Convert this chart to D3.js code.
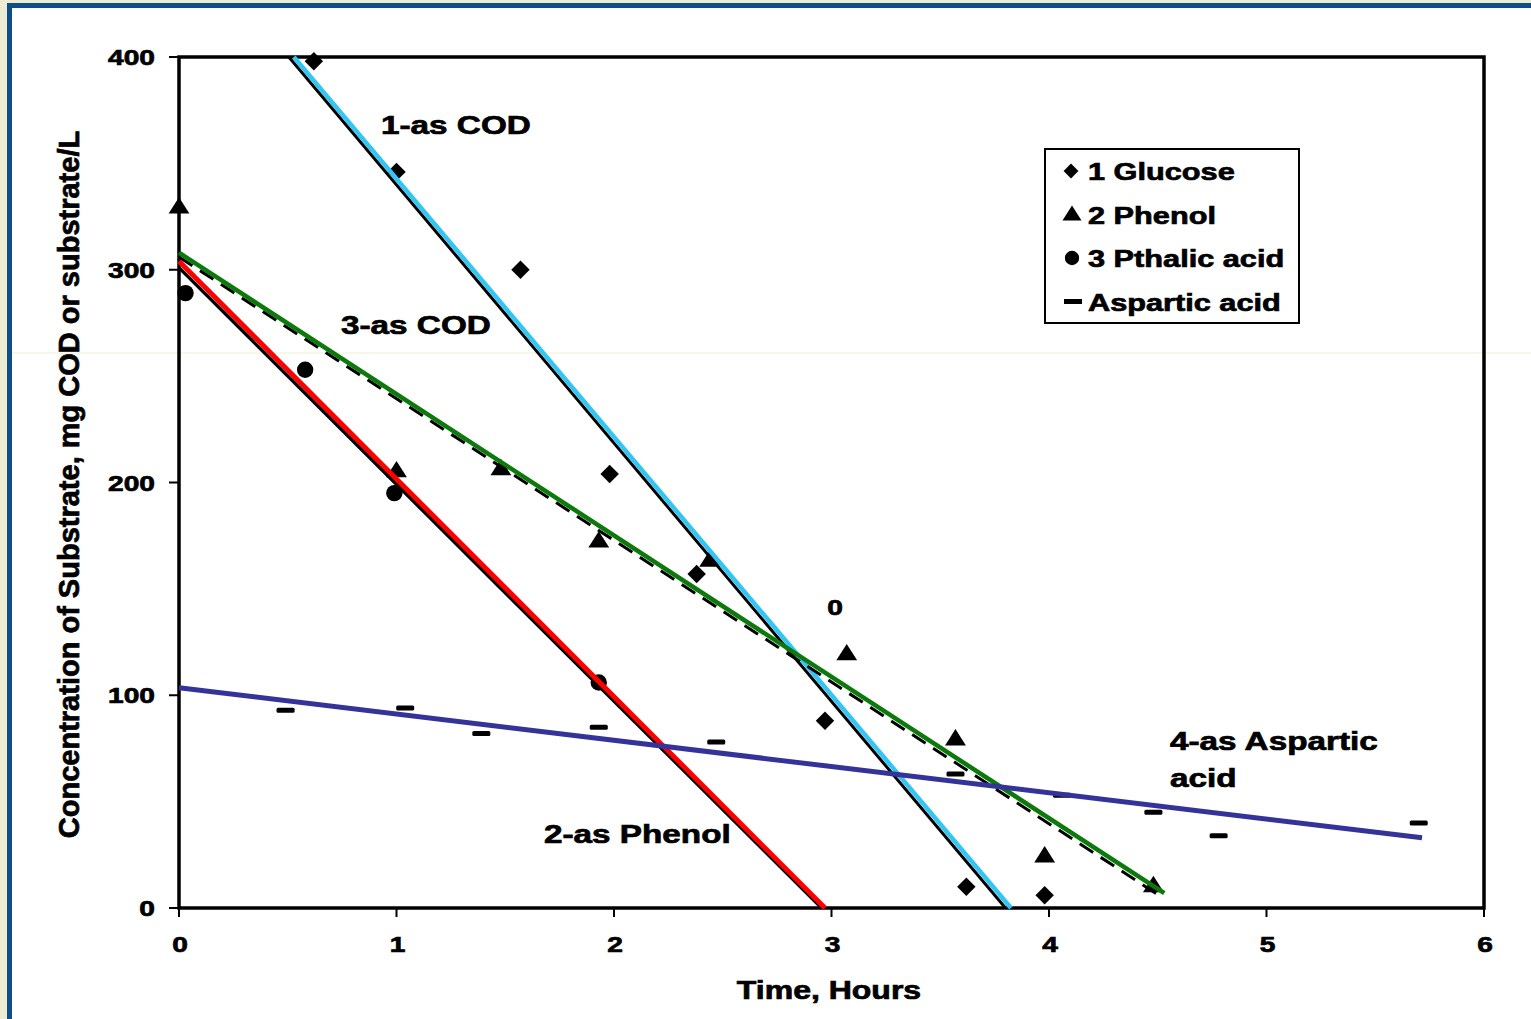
<!DOCTYPE html>
<html>
<head>
<meta charset="utf-8">
<script src="https://cdn.jsdelivr.net/npm/d3@7"></script>
<style>
  html, body { margin: 0; padding: 0; background: #ffffff; }
  svg { display: block; }
  text { font-family: "Liberation Sans", Arial, sans-serif; font-weight: bold; fill: #000; stroke: #000; stroke-width: 0.7px; }
</style>
</head>
<body>
<svg id="chart" width="1531" height="1019"></svg>
<script>
'use strict';

// measured points, [hours, mg/L]
const glucose = [[0.62, 398], [1.0, 346], [1.57, 300], [1.98, 204], [2.38, 157], [2.97, 88], [3.62, 10], [3.98, 6]];
const phenol = [[0.0, 329], [1.0, 205], [1.48, 206], [1.93, 172], [2.44, 163], [3.07, 119], [3.57, 79], [3.98, 24], [4.48, 10]];
const pthalic = [[0.03, 289], [0.58, 253], [0.99, 195], [1.93, 106]];
const aspartic = [[0.49, 93], [1.04, 94], [1.39, 82], [1.93, 85], [2.47, 78], [3.57, 63], [4.06, 53], [4.48, 45], [4.78, 34], [5.70, 40]];

// fitted straight lines, [start, end]
const codLine1 = [[0.505, 400], [3.80, 0]];
const glucoseFit = [[0.528, 400], [3.825, 0]];
const codLine2 = [[0.0, 301], [2.955, 0]];
const phenolFit = [[0.0, 304], [2.97, 0]];
const codLine3 = [[0.0, 306], [4.52, 5]];
const pthalicFit = [[0.0, 308], [4.53, 7]];
const asparticFit = [[0.0, 103.5], [5.715, 33]];

const xTicks = [0, 1, 2, 3, 4, 5, 6];
const yTicks = [0, 100, 200, 300, 400];
const legendNames = ['1 Glucose', '2 Phenol', '3 Pthalic acid', 'Aspartic acid'];

const SX = 1.28; // the scan is stretched sideways, so is the lettering

const svg = d3.select('#chart');

// scanned page edge
svg.append('rect').attr('width', 1531).attr('height', 1019).attr('fill', '#ebecd2');
svg.append('rect').attr('x', 7).attr('y', 3).attr('width', 1531).attr('height', 1019).attr('fill', '#0c4f86');
svg.append('rect').attr('x', 12).attr('y', 8).attr('width', 1531).attr('height', 1019).attr('fill', '#ffffff');
svg.append('line').attr('x1', 12).attr('x2', 1531).attr('y1', 353).attr('y2', 353)
   .attr('stroke', '#eeeed8').attr('stroke-width', 1);

const x = d3.scaleLinear().domain([0, 6]).range([179, 1484]);
const y = d3.scaleLinear().domain([0, 400]).range([908, 57]);

const label = function (g, px, py, words, size, anchor) {
  return g.append('text')
    .attr('transform', `translate(${px},${py}) scale(${SX},1)`)
    .attr('font-size', size + 'px')
    .attr('text-anchor', anchor)
    .text(words);
};

// frame
svg.append('rect')
   .attr('x', x(0)).attr('y', y(400))
   .attr('width', x(6) - x(0)).attr('height', y(0) - y(400))
   .attr('fill', 'none').attr('stroke', '#000').attr('stroke-width', 3.5);

// ticks
svg.append('g').selectAll('line').data(yTicks).join('line')
   .attr('x1', x(0) - 10).attr('x2', x(0))
   .attr('y1', d => y(d)).attr('y2', d => y(d))
   .attr('stroke', '#000').attr('stroke-width', 2);
svg.append('g').selectAll('line').data(xTicks).join('line')
   .attr('x1', d => x(d)).attr('x2', d => x(d))
   .attr('y1', y(0)).attr('y2', y(0) + 9)
   .attr('stroke', '#000').attr('stroke-width', 2);

yTicks.forEach(v => label(svg, 155, y(v) + 8, String(v), 22, 'end'));
xTicks.forEach(v => label(svg, x(v) + 1, 952, String(v), 22, 'middle'));

label(svg, 829, 999, 'Time, Hours', 25, 'middle');
svg.append('text')
   .attr('transform', `translate(79, ${(y(0) + y(400)) / 2 + 2}) rotate(-90)`)
   .attr('font-size', '29px')
   .attr('text-anchor', 'middle')
   .text('Concentration of Substrate, mg COD or substrate/L');

// markers
const diamond = d3.symbol().type(d3.symbolSquare).size(170);
const triangle = d3.symbol().type(d3.symbolTriangle).size(155);
const circle = d3.symbol().type(d3.symbolCircle).size(210);

const marks = svg.append('g');
marks.selectAll('.glu').data(glucose).join('path').attr('class', 'glu')
     .attr('d', diamond)
     .attr('transform', d => `translate(${x(d[0])},${y(d[1])}) rotate(45)`);
marks.selectAll('.phe').data(phenol).join('path').attr('class', 'phe')
     .attr('d', triangle)
     .attr('transform', d => `translate(${x(d[0])},${y(d[1])}) scale(1.1,1)`);
marks.selectAll('.pth').data(pthalic).join('path').attr('class', 'pth')
     .attr('d', circle)
     .attr('transform', d => `translate(${x(d[0])},${y(d[1])})`);
marks.selectAll('.asp').data(aspartic).join('rect').attr('class', 'asp')
     .attr('x', d => x(d[0]) - 9).attr('y', d => y(d[1]) - 2.5)
     .attr('width', 18).attr('height', 5).attr('rx', 1.5);
marks.selectAll('path').attr('fill', '#000');

// fitted lines
const fit = function (pts, colour, width, dash) {
  svg.append('line')
     .attr('x1', x(pts[0][0])).attr('y1', y(pts[0][1]))
     .attr('x2', x(pts[1][0])).attr('y2', y(pts[1][1]))
     .attr('stroke', colour).attr('stroke-width', width)
     .attr('stroke-dasharray', dash || null);
};
fit(codLine1, '#000', 3);
fit(glucoseFit, '#33c6f4', 4.5);
fit(codLine2, '#000', 3.5);
fit(phenolFit, '#ff0000', 5);
fit(codLine3, '#000', 3, '16,9');
fit(pthalicFit, '#0b7a0b', 4.5);
fit(asparticFit, '#33339a', 5);

// line labels
label(svg, 381, 134, '1-as COD', 26, 'start');
label(svg, 341, 334, '3-as COD', 26, 'start');
label(svg, 544, 843, '2-as Phenol', 26, 'start');
label(svg, 1170, 750, '4-as Aspartic', 26, 'start');
label(svg, 1170, 787, 'acid', 26, 'start');
label(svg, 835, 615, '0', 22, 'middle');

// legend
const leg = svg.append('g');
leg.append('rect').attr('x', 1045).attr('y', 149).attr('width', 254).attr('height', 174)
   .attr('fill', '#fff').attr('stroke', '#000').attr('stroke-width', 2);
legendNames.forEach((name, i) => {
  const cy = 171 + i * 43.5;
  if (i === 0) leg.append('path').attr('d', diamond.size(110)()).attr('transform', `translate(1071,${cy}) rotate(45)`);
  if (i === 1) leg.append('path').attr('d', triangle.size(130)()).attr('transform', `translate(1072,${cy + 1}) scale(1.1,1)`);
  if (i === 2) leg.append('path').attr('d', circle.size(160)()).attr('transform', `translate(1072,${cy})`);
  if (i === 3) leg.append('rect').attr('x', 1064).attr('y', cy - 2.5).attr('width', 18).attr('height', 5);
  label(leg, 1088, cy + 9, name, 24, 'start');
});
</script>
</body>
</html>
